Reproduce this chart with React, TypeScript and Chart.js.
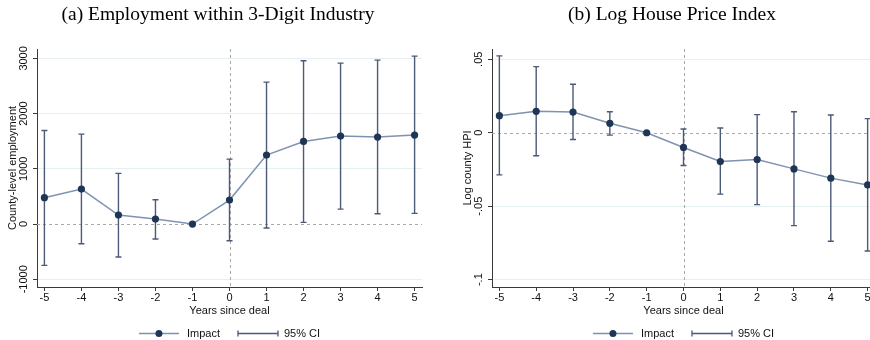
import React, { useEffect, useRef } from "react";
import { Chart, registerables } from "chart.js";

Chart.register(...registerables);

// ---------- data ----------
const years = [-5, -4, -3, -2, -1, 0, 1, 2, 3, 4, 5];
const xTickLabels = ["-5", "-4", "-3", "-2", "-1", "0", "1", "2", "3", "4", "5"];

const empImpact = [477, 633, 163, 90, 0, 434, 1249, 1496, 1593, 1575, 1611];
const empLower = [-748, -356, -597, -271, 0, -302, -72, 30, 271, 187, 193];
const empUpper = [1695, 1629, 917, 440, 0, 1176, 2570, 2956, 2914, 2968, 3041];
const empTicks = [-1000, 0, 1000, 2000, 3000];
const empTickLabels = ["-1000", "0", "1000", "2000", "3000"];

const hpiImpact = [0.0116, 0.0146, 0.0141, 0.0064, 0, -0.01, -0.0196, -0.0182, -0.0246, -0.0309, -0.0355];
const hpiLower = [-0.0287, -0.0157, -0.0046, -0.0016, 0, -0.0223, -0.0418, -0.0489, -0.0632, -0.0739, -0.0805];
const hpiUpper = [0.0523, 0.045, 0.033, 0.0143, 0, 0.0025, 0.0032, 0.0123, 0.0143, 0.0121, 0.0096];
const hpiTicks = [-0.1, -0.05, 0, 0.05];
const hpiTickLabels = ["-.1", "-.05", "0", ".05"];

const legendLabels = ["Impact", "95% CI"];

// ---------- styles ----------
const SANS = '"Liberation Sans", Arial, Helvetica, sans-serif';
const SERIF = '"Liberation Serif", "Times New Roman", serif';
const LINE_COLOR = "#7d93b0";
const MARKER_COLOR = "#1f3556";
const CI_COLOR = "#4b5a77";
const AXIS_COLOR = "#3a3a3a";
const GRID_COLOR = "#e6eff1";
const REF_COLOR = "#a9a9a9";
const TEXT_COLOR = "#111";

type PanelProps = {
  left: number;
  width: number;
  yWidth: number;
  padRight: number;
  title: string;
  yTitle: string;
  impact: number[];
  lower: number[];
  upper: number[];
  yMin: number;
  yMax: number;
  yTicks: number[];
  yTickLabels: string[];
};

function Panel(p: PanelProps) {
  const ref = useRef<HTMLCanvasElement | null>(null);

  useEffect(() => {
    const canvas = ref.current;
    if (!canvas) return;

    const decor = {
      id: "stataDecor",
      beforeDatasetsDraw(chart: any) {
        const { ctx, chartArea: a } = chart;
        const x = chart.scales.x;
        const y = chart.scales.y;
        ctx.save();
        // reference lines
        ctx.strokeStyle = REF_COLOR;
        ctx.lineWidth = 1;
        ctx.setLineDash([3, 3]);
        const y0 = Math.round(y.getPixelForValue(0)) + 0.5;
        ctx.beginPath();
        ctx.moveTo(a.left, y0);
        ctx.lineTo(a.right, y0);
        ctx.stroke();
        const x0 = Math.round(x.getPixelForValue(0)) + 0.5;
        ctx.beginPath();
        ctx.moveTo(x0, a.top);
        ctx.lineTo(x0, a.bottom);
        ctx.stroke();
        ctx.setLineDash([]);
        // confidence intervals
        ctx.strokeStyle = CI_COLOR;
        ctx.lineWidth = 1.4;
        years.forEach((yr, i) => {
          if (p.lower[i] === p.upper[i]) return;
          const px = x.getPixelForValue(yr);
          const pl = y.getPixelForValue(p.lower[i]);
          const pu = y.getPixelForValue(p.upper[i]);
          ctx.beginPath();
          ctx.moveTo(px, pl);
          ctx.lineTo(px, pu);
          ctx.moveTo(px - 3, pl);
          ctx.lineTo(px + 3, pl);
          ctx.moveTo(px - 3, pu);
          ctx.lineTo(px + 3, pu);
          ctx.stroke();
        });
        ctx.restore();
      },
      afterDraw(chart: any) {
        const { ctx, chartArea: a } = chart;
        const y = chart.scales.y;
        const cx = (a.left + a.right) / 2;
        ctx.save();
        ctx.fillStyle = TEXT_COLOR;
        // y tick labels (rotated)
        ctx.font = `11px ${SANS}`;
        ctx.textAlign = "center";
        ctx.textBaseline = "middle";
        p.yTicks.forEach((v, i) => {
          const py = y.getPixelForValue(v);
          ctx.save();
          ctx.translate(a.left - 13.3, py);
          ctx.rotate(-Math.PI / 2);
          ctx.fillText(p.yTickLabels[i], 0, 0);
          ctx.restore();
        });
        // y title
        ctx.save();
        ctx.translate(a.left - 24.5, (a.top + a.bottom) / 2);
        ctx.rotate(-Math.PI / 2);
        ctx.fillText(p.yTitle, 0, 0);
        ctx.restore();
        // x title
        ctx.fillText("Years since deal", cx, 311);
        // legend
        const wImpact = ctx.measureText(legendLabels[0]).width;
        const wCI = ctx.measureText(legendLabels[1]).width;
        const total = 40 + 8 + wImpact + 18 + 40 + 6 + wCI;
        let lx = cx - total / 2;
        const ly = 333.5;
        ctx.strokeStyle = LINE_COLOR;
        ctx.lineWidth = 1.5;
        ctx.beginPath();
        ctx.moveTo(lx, ly);
        ctx.lineTo(lx + 40, ly);
        ctx.stroke();
        ctx.fillStyle = MARKER_COLOR;
        ctx.beginPath();
        ctx.arc(lx + 20, ly, 3.5, 0, Math.PI * 2);
        ctx.fill();
        ctx.fillStyle = TEXT_COLOR;
        ctx.textAlign = "left";
        ctx.fillText(legendLabels[0], lx + 48, ly);
        lx += 48 + wImpact + 18;
        ctx.strokeStyle = CI_COLOR;
        ctx.lineWidth = 1.3;
        ctx.beginPath();
        ctx.moveTo(lx, ly);
        ctx.lineTo(lx + 40, ly);
        ctx.moveTo(lx, ly - 3);
        ctx.lineTo(lx, ly + 3);
        ctx.moveTo(lx + 40, ly - 3);
        ctx.lineTo(lx + 40, ly + 3);
        ctx.stroke();
        ctx.fillText(legendLabels[1], lx + 46, ly);
        // panel title
        ctx.font = `19.5px ${SERIF}`;
        ctx.textAlign = "center";
        ctx.fillStyle = "#000";
        ctx.fillText(p.title, cx - 11.5, 15);
        ctx.restore();
      },
    };

    const chart = new Chart(canvas, {
      type: "line",
      data: {
        datasets: [
          {
            label: "Impact",
            data: years.map((yr, i) => ({ x: yr, y: p.impact[i] })),
            borderColor: LINE_COLOR,
            borderWidth: 1.5,
            pointRadius: 3.6,
            pointBackgroundColor: MARKER_COLOR,
            pointBorderColor: MARKER_COLOR,
            pointBorderWidth: 0,
            tension: 0,
            fill: false,
          },
        ],
      },
      options: {
        responsive: false,
        animation: false,
        devicePixelRatio: 1,
        layout: { padding: { top: 49, right: p.padRight, left: 0, bottom: 0 } },
        plugins: {
          legend: { display: false },
          title: { display: false },
          tooltip: { enabled: false },
        },
        scales: {
          x: {
            type: "linear",
            min: -5.2,
            max: 5.2,
            afterBuildTicks: (s: any) => {
              s.ticks = years.map((v) => ({ value: v }));
            },
            afterFit: (s: any) => {
              s.height = 53;
            },
            ticks: {
              autoSkip: false,
              maxRotation: 0,
              minRotation: 0,
              padding: 0,
              color: TEXT_COLOR,
              font: { family: SANS, size: 11 },
              callback: (v: any) => xTickLabels[years.indexOf(Number(v))] ?? "",
            },
            grid: {
              drawOnChartArea: false,
              drawTicks: true,
              tickLength: 4,
              tickColor: AXIS_COLOR,
            },
            border: { color: AXIS_COLOR, width: 1 },
          },
          y: {
            type: "linear",
            min: p.yMin,
            max: p.yMax,
            afterBuildTicks: (s: any) => {
              s.ticks = p.yTicks.map((v) => ({ value: v }));
            },
            afterFit: (s: any) => {
              s.width = p.yWidth;
            },
            ticks: { display: false },
            grid: {
              color: (c: any) => (c.tick && Math.abs(c.tick.value) < 1e-9 ? "rgba(0,0,0,0)" : GRID_COLOR),
              drawTicks: true,
              tickLength: 4,
              tickColor: AXIS_COLOR,
              lineWidth: 1,
            },
            border: { color: AXIS_COLOR, width: 1 },
          },
        },
      },
      plugins: [decor],
    } as any);

    return () => chart.destroy();
  }, []);

  return (
    <canvas
      ref={ref}
      width={p.width}
      height={340}
      style={{ position: "absolute", left: p.left, top: 0, width: p.width, height: 340 }}
    />
  );
}

export default function App() {
  return (
    <div
      style={{
        position: "fixed",
        left: 0,
        top: 0,
        width: 870,
        height: 340,
        overflow: "hidden",
        background: "#fff",
      }}
    >
      <Panel
        left={0}
        width={435}
        yWidth={37}
        padRight={13}
        title="(a) Employment within 3-Digit Industry"
        yTitle="County-level employment"
        impact={empImpact}
        lower={empLower}
        upper={empUpper}
        yMin={-1140}
        yMax={3170}
        yTicks={empTicks}
        yTickLabels={empTickLabels}
      />
      <Panel
        left={435}
        width={445}
        yWidth={57}
        padRight={5}
        title="(b) Log House Price Index"
        yTitle="Log county HPI"
        impact={hpiImpact}
        lower={hpiLower}
        upper={hpiUpper}
        yMin={-0.105}
        yMax={0.057}
        yTicks={hpiTicks}
        yTickLabels={hpiTickLabels}
      />
    </div>
  );
}
